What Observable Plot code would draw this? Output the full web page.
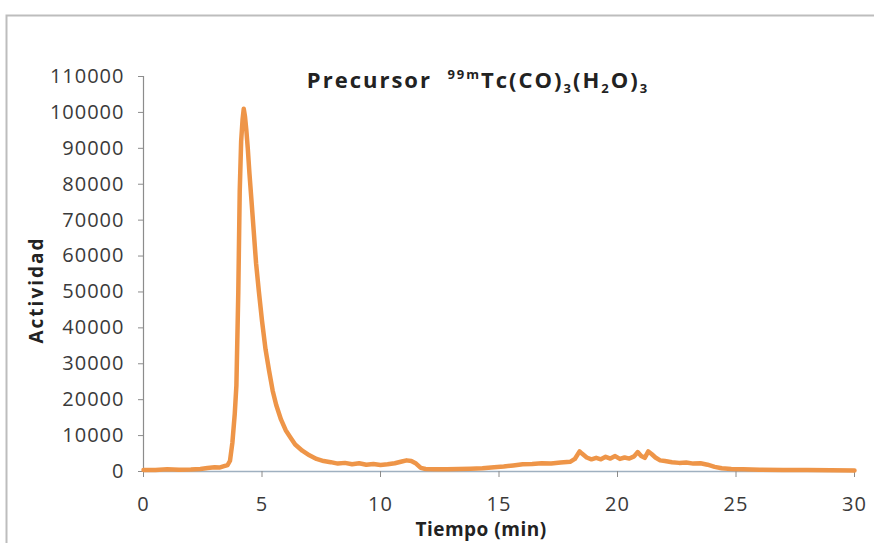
<!DOCTYPE html>
<html>
<head>
<meta charset="utf-8">
<script src="https://cdn.jsdelivr.net/npm/d3@7"></script>
<script src="https://cdn.jsdelivr.net/npm/@observablehq/plot@0.6"></script>
<style>
  html, body { margin: 0; padding: 0; background: #fff; }
  #chart svg { display: block; }
</style>
</head>
<body>
<div id="chart"></div>
<script>
// Time (min)
const tiempo = [0, 0.5, 1.0, 1.5, 2.0, 2.4, 2.7, 3.0, 3.2, 3.4, 3.55, 3.65, 3.75, 3.85, 3.92, 4.0, 4.06, 4.12, 4.18, 4.23, 4.28, 4.34, 4.4, 4.47, 4.55, 4.65, 4.75, 4.87, 5.0, 5.15, 5.3, 5.45, 5.6, 5.8, 6.0, 6.2, 6.4, 6.7, 7.0, 7.3, 7.6, 7.9, 8.2, 8.5, 8.8, 9.1, 9.4, 9.7, 10.0, 10.3, 10.6, 10.9, 11.1, 11.3, 11.5, 11.7, 11.9, 12.3, 12.8, 13.3, 13.8, 14.3, 14.8, 15.2, 15.6, 16.0, 16.4, 16.8, 17.2, 17.6, 18.0, 18.2, 18.4, 18.5, 18.7, 18.9, 19.1, 19.3, 19.5, 19.7, 19.9, 20.1, 20.3, 20.5, 20.7, 20.85, 21.0, 21.15, 21.3, 21.45, 21.6, 21.8, 22.0, 22.3, 22.6, 22.9, 23.2, 23.5, 23.8, 24.1, 24.4, 24.8, 25.3, 26.0, 27.0, 28.0, 29.0, 30.0];
// Actividad
const actividad = [400, 450, 600, 500, 550, 700, 1000, 1200, 1100, 1500, 1800, 3000, 8000, 16000, 24000, 50000, 78000, 92000, 98000, 101000, 99000, 95000, 90000, 83000, 76000, 67000, 58000, 50000, 42000, 34000, 28000, 22500, 18500, 14500, 11500, 9500, 7500, 5800, 4500, 3500, 2900, 2600, 2200, 2400, 2000, 2300, 1900, 2100, 1800, 2000, 2300, 2800, 3100, 2900, 2200, 1000, 700, 650, 600, 700, 800, 900, 1200, 1400, 1700, 2000, 2100, 2300, 2200, 2500, 2700, 3500, 5600, 5000, 3900, 3400, 3800, 3400, 4100, 3600, 4300, 3500, 3900, 3600, 4200, 5400, 4300, 3800, 5600, 4800, 3900, 3100, 2900, 2600, 2400, 2500, 2200, 2300, 1900, 1300, 900, 700, 600, 500, 450, 400, 350, 300];

const xTicks = [0, 5, 10, 15, 20, 25, 30];
const yTicks = [0, 10000, 20000, 30000, 40000, 50000, 60000, 70000, 80000, 90000, 100000, 110000];

const data = tiempo.map((t, i) => ({t, v: actividad[i]}));

const FONT = "'Open Sans', Lato, sans-serif";

const chart = Plot.plot({
  width: 874,
  height: 543,
  marginLeft: 143,
  marginRight: 20,
  marginTop: 76,
  marginBottom: 72,
  style: {fontFamily: FONT, fontSize: "20px", letterSpacing: "1px", color: "#333", background: "#fff"},
  x: {domain: [0, 30]},
  y: {domain: [0, 110000]},
  marks: [
    Plot.ruleX([0], {stroke: "#8c8c8c", strokeWidth: 1.2}),
    Plot.ruleY([0], {stroke: "#9fb0c0", strokeWidth: 1.5}),
    Plot.axisX({ticks: xTicks, tickSize: 6, tickPadding: 19, stroke: "#8c8c8c", fill: "#3a3a3a", label: null}),
    Plot.axisY({ticks: yTicks, tickFormat: d => String(d), tickSize: 5, tickPadding: 14, stroke: "#8c8c8c", fill: "#3a3a3a", label: null}),
    Plot.line(data, {x: "t", y: "v", stroke: "#EE9548", strokeWidth: 4.5, strokeLinejoin: "round", strokeLinecap: "round"})
  ]
});

const svg = d3.select(chart);

// outer chart border
svg.append("rect")
  .attr("x", 6.5).attr("y", 15.5)
  .attr("width", 900).attr("height", 600)
  .attr("fill", "none").attr("stroke", "#bdbdbd").attr("stroke-width", 2);

// title with superscript / subscripts
const title = svg.append("text")
  .attr("x", 478).attr("y", 88)
  .attr("text-anchor", "middle")
  .attr("font-family", FONT).attr("font-weight", "bold")
  .attr("font-size", 22).attr("letter-spacing", "2px").attr("fill", "#222");
title.append("tspan").text("Precursor  ");
title.append("tspan").attr("font-size", 13).attr("dy", -9).text("99m");
title.append("tspan").attr("dy", 9).text("Tc(CO)");
title.append("tspan").attr("font-size", 13).attr("dy", 5).text("3");
title.append("tspan").attr("dy", -5).text("(H");
title.append("tspan").attr("font-size", 13).attr("dy", 5).text("2");
title.append("tspan").attr("dy", -5).text("O)");
title.append("tspan").attr("font-size", 13).attr("dy", 5).text("3");

// y axis label
svg.append("text")
  .attr("transform", "translate(43,290) rotate(-90)")
  .attr("text-anchor", "middle")
  .attr("font-family", FONT).attr("font-weight", "bold")
  .attr("font-size", 19).attr("letter-spacing", "2px").attr("fill", "#222")
  .text("Actividad");

// x axis label
svg.append("text")
  .attr("x", 481).attr("y", 536)
  .attr("text-anchor", "middle")
  .attr("font-family", FONT).attr("font-weight", "bold")
  .attr("font-size", 19).attr("letter-spacing", "0.5px").attr("fill", "#222")
  .text("Tiempo (min)");

document.getElementById("chart").appendChild(chart);
</script>
</body>
</html>
